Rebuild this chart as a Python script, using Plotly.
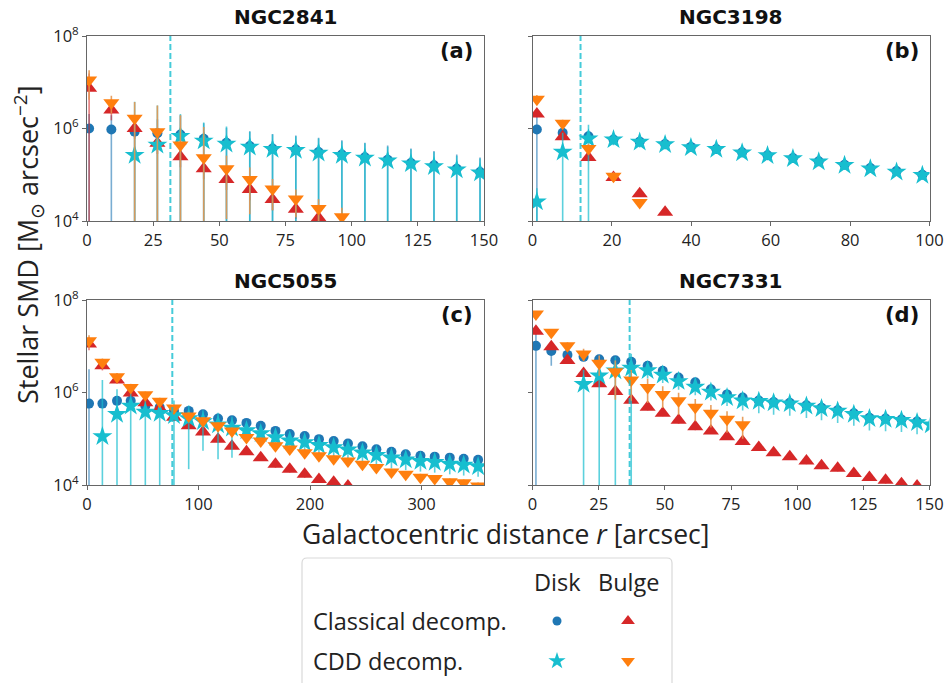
import plotly.graph_objects as go

# ---------------- data: stellar surface mass density profiles ----------------
# NGC2841
r_a = [0.8, 9.2, 18.0, 26.6, 35.3, 44.1, 52.7, 61.5, 70.1, 78.9, 87.5, 96.3,
       105.0, 113.6, 122.4, 131.1, 139.7, 148.5]
disk_cl_a = [1.0e6, 9.5e5, 8.5e5, 7.9e5, 7.4e5, 6.0e5, 4.9e5, 4.2e5, 3.7e5, 3.5e5,
             3.1e5, 2.75e5, 2.4e5, 2.1e5, 1.8e5, 1.6e5, 1.35e5, 1.15e5]
disk_cl_a_err = [1.05e6, 9.8e5, 9.0e5, 8.0e5, 1.2e6, 7.0e5, 5.5e5, 4.5e5, 3.9e5, 3.6e5,
                 3.2e5, 2.8e5, 2.5e5, 2.2e5, 1.9e5, 1.65e5, 1.4e5, 1.2e5]
bulge_cl_a = [7.4e6, 2.5e6, 1.0e6, 4.8e5, 2.45e5, 1.35e5, 7.9e4, 4.8e4, 2.9e4, 1.8e4, 1.17e4]
bulge_cl_a_err = [8.0e6, 1.0e6, 4.0e5, 2.0e5, 1.0e5, 5.5e4, 3.2e4, 2.0e4, 1.2e4, 7.0e3, 5.0e3]
disk_cdd_a = [2.63e5, 4.4e5, 6.8e5, 5.4e5, 4.6e5, 4.0e5, 3.55e5, 3.4e5, 2.95e5, 2.63e5,
              2.3e5, 2.0e5, 1.74e5, 1.51e5, 1.29e5, 1.10e5]
disk_cdd_a_err = [3.54e6, 2.72e6, 1.37e6, 8.1e5, 6.4e5, 4.5e5, 3.9e5, 3.4e5, 3.1e5, 2.7e5,
                  2.5e5, 2.05e5, 1.8e5, 1.58e5, 1.3e5, 1.14e5]
bulge_cdd_a = [1.12e7, 3.6e6, 1.66e6, 8.5e5, 4.4e5, 2.34e5, 1.35e5, 7.9e4, 4.9e4, 3.0e4,
               1.86e4, 1.23e4]
bulge_cdd_a_err = [7.0e6, 1.5e6, 2.1e6, 2.3e6, 1.5e6, 8.5e5, 1.24e5, 6.5e4, 3.2e4, 1.8e4,
                   1.1e4, 7.0e3]
r_eff_a = 31.5

# NGC3198
r_b = [1.1, 7.6, 14.1, 20.4, 27.0, 33.4, 39.9, 46.3, 52.8, 59.2, 65.6, 72.1, 78.6,
       85.1, 91.7, 98.2]
disk_cl_b = [9.5e5, 8.1e5, 6.8e5, 5.8e5, 5.2e5, 4.6e5, 4.0e5, 3.6e5, 3.05e5, 2.65e5,
             2.3e5, 1.95e5, 1.65e5, 1.4e5, 1.2e5, 1.0e5]
disk_cl_b_err = [9.6e5, 1.0e5, 8.0e4, 6.0e4, 5.0e4, 4.5e4, 4.0e4, 3.5e4, 3.0e4, 2.7e4,
                 2.3e4, 2.0e4, 1.7e4, 1.4e4, 1.2e4, 1.0e4]
bulge_cl_b = [2.05e6, 6.6e5, 2.35e5, 8.7e4, 3.9e4, 1.55e4]
bulge_cl_b_err = [3.0e5, 1.0e5, 4.0e4, 1.5e4, 6.0e3, 2.0e3]
disk_cdd_b = [2.6e4, 3.1e5, 6.0e5, 5.75e5, 5.1e5, 4.5e5, 3.9e5, 3.55e5, 3.0e5, 2.6e5,
              2.25e5, 1.9e5, 1.6e5, 1.35e5, 1.15e5, 9.8e4]
disk_cdd_b_err = [2.5e4, 5.0e5, 6.1e5, 1.4e5, 1.2e5, 1.0e5, 8.0e4, 7.0e4, 6.0e4, 5.0e4,
                  4.0e4, 3.5e4, 3.0e4, 2.5e4, 2.0e4, 1.7e4]
bulge_cdd_b = [4.3e6, 1.3e6, 3.7e5, 9.3e4, 2.5e4]
bulge_cdd_b_err = [1.0e6, 2.5e5, 1.0e5, 2.0e4, 5.0e3]
r_eff_b = 12.1

# NGC5055
r_c = [1.8, 13.8, 26.9, 39.2, 52.3, 65.2, 78.0, 91.2, 104.0, 117.5, 130.0, 143.0,
       155.8, 169.0, 181.8, 195.2, 208.0, 221.2, 234.0, 247.0, 259.5, 273.0, 285.8,
       299.0, 311.8, 325.3, 337.8, 350.7]
disk_cl_c = [5.75e5, 5.75e5, 6.6e5, 6.6e5, 5.1e5, 4.8e5, 4.0e5, 4.0e5, 3.4e5, 2.75e5,
             2.5e5, 2.2e5, 1.9e5, 1.48e5, 1.26e5, 1.15e5, 9.8e4, 8.9e4, 7.9e4, 6.9e4,
             5.9e4, 5.25e4, 4.6e4, 4.3e4, 4.1e4, 3.9e4, 3.7e4, 3.5e4]
disk_cl_c_err = [2.6e6, 9.0e4, 1.0e5, 1.0e5, 8.0e4, 7.0e4, 6.0e4, 6.0e4, 5.0e4, 4.0e4,
                 3.5e4, 3.0e4, 2.7e4, 2.2e4, 1.9e4, 1.7e4, 1.5e4, 1.3e4, 1.2e4, 1.0e4,
                 9.0e3, 8.0e3, 7.0e3, 6.5e3, 6.0e3, 6.0e3, 5.5e3, 5.0e3]
bulge_cl_c = [1.12e7, 3.8e6, 1.86e6, 9.8e5, 6.0e5, 4.5e5, 2.9e5, 1.9e5, 1.4e5, 9.8e4,
              6.9e4, 5.25e4, 3.9e4, 2.8e4, 2.2e4, 1.7e4, 1.32e4, 1.15e4, 9.5e3]
bulge_cl_c_err = [3.0e6, 8.0e5, 3.0e5, 1.5e5, 1.0e5, 7.0e4, 5.0e4, 3.0e4, 2.2e4, 1.6e4,
                  1.1e4, 8.0e3, 6.0e3, 4.5e3, 3.5e3, 2.7e3, 2.0e3, 1.7e3, 1.5e3]
disk_cdd_c = [1.12e5, 3.4e5, 5.1e5, 3.8e5, 3.55e5, 3.2e5, 2.75e5, 2.35e5, 2.0e5, 1.7e5,
              1.5e5, 1.3e5, 1.07e5, 9.1e4, 8.3e4, 7.2e4, 6.5e4, 5.8e4, 5.0e4, 4.4e4,
              3.9e4, 3.5e4, 3.25e4, 3.1e4, 2.85e4, 2.7e4, 2.5e4]
disk_cdd_c_err = [1.75e6, 8.3e5, 5.5e5, 5.1e5, 4.0e5, 3.5e5, 2.53e5, 1.8e5, 1.64e5, 1.31e5,
                  6.0e4, 5.0e4, 4.0e4, 3.6e4, 3.3e4, 2.9e4, 2.6e4, 2.3e4, 2.0e4, 1.8e4,
                  1.6e4, 1.4e4, 1.3e4, 1.25e4, 1.15e4, 1.1e4, 1.0e4]
bulge_cdd_c = [1.32e7, 4.5e6, 2.2e6, 1.29e6, 8.9e5, 6.5e5, 4.6e5, 3.1e5, 2.45e5, 1.9e5,
               1.48e5, 1.07e5, 8.9e4, 7.1e4, 6.0e4, 5.0e4, 4.3e4, 3.7e4, 3.3e4, 2.8e4,
               2.4e4, 1.9e4, 1.7e4, 1.48e4, 1.38e4, 1.17e4, 1.12e4, 9.5e3]
bulge_cdd_c_err = [4.0e6, 9.0e5, 4.0e5, 2.5e5, 1.6e5, 1.2e5, 8.0e4, 6.0e4, 4.5e4, 3.5e4,
                   2.8e4, 2.0e4, 1.7e4, 1.3e4, 1.1e4, 9.0e3, 8.0e3, 7.0e3, 6.0e3, 5.0e3,
                   4.5e3, 3.5e3, 3.0e3, 2.7e3, 2.5e3, 2.2e3, 2.0e3, 1.8e3]
r_eff_c = 76.5

# NGC7331
r_d = [1.3, 7.1, 13.2, 19.3, 25.2, 31.3, 37.3, 43.5, 49.2, 55.2, 61.5, 67.4, 73.5,
       79.4, 85.5, 91.1, 97.2, 103.5, 109.2, 115.3, 121.4, 127.3, 133.4, 139.4,
       145.3, 150.5]
disk_cl_d = [1.02e7, 7.9e6, 6.5e6, 5.9e6, 5.25e6, 5.0e6, 4.6e6, 3.8e6, 2.95e6, 2.1e6,
             1.66e6, 1.17e6, 9.1e5, 7.8e5, 6.7e5, 6.25e5, 6.0e5, 5.3e5, 4.7e5, 4.15e5,
             3.55e5, 2.85e5, 2.75e5, 2.6e5, 2.35e5]
disk_cl_d_err = [1.1e7, 4.1e6, 8.0e5, 7.0e5, 6.0e5, 6.0e5, 5.0e5, 4.5e5, 3.5e5, 2.5e5,
                 2.0e5, 1.4e5, 1.1e5, 9.0e4, 8.0e4, 7.5e4, 7.0e4, 6.0e4, 5.5e4, 5.0e4,
                 4.0e4, 3.5e4, 3.3e4, 3.1e4, 2.8e4]
bulge_cl_d = [2.1e7, 9.8e6, 4.9e6, 2.57e6, 1.55e6, 1.05e6, 6.8e5, 4.8e5, 3.55e5, 2.5e5,
              1.82e5, 1.48e5, 1.1e5, 8.7e4, 6.5e4, 5.0e4, 4.1e4, 3.3e4, 2.6e4, 2.3e4,
              1.78e4, 1.45e4, 1.26e4, 1.07e4, 9.5e3]
bulge_cl_d_err = [3.0e6, 1.5e6, 7.0e5, 4.0e5, 2.5e5, 2.0e5, 1.0e5, 7.0e4, 5.0e4, 4.0e4,
                  3.0e4, 2.2e4, 1.6e4, 1.3e4, 1.0e4, 7.0e3, 6.0e3, 5.0e3, 4.0e3, 3.5e3,
                  2.7e3, 2.2e3, 1.9e3, 1.6e3, 1.4e3]
disk_cdd_d = [1.5e6, 2.3e6, 2.95e6, 3.4e6, 3.0e6, 2.4e6, 1.74e6, 1.32e6, 1.02e6, 7.8e5,
              6.6e5, 6.45e5, 6.0e5, 5.75e5, 5.1e5, 4.5e5, 4.0e5, 3.4e5, 2.75e5, 2.65e5,
              2.5e5, 2.25e5, 2.0e5]
disk_cdd_d_err = [1.6e6, 2.4e6, 3.0e6, 3.5e6, 1.0e6, 8.0e5, 6.0e5, 4.5e5, 3.5e5, 2.7e5,
                  2.5e5, 2.9e5, 2.7e5, 2.6e5, 2.3e5, 2.0e5, 1.8e5, 1.5e5, 1.25e5, 1.2e5,
                  1.1e5, 1.0e5, 9.0e4]
bulge_cdd_d = [5.0e7, 2.0e7, 1.02e7, 6.8e6, 4.3e6, 2.8e6, 1.86e6, 1.29e6, 9.1e5, 6.6e5,
               4.8e5, 3.55e5, 2.65e5, 2.0e5]
bulge_cdd_d_err = [5.0e6, 3.0e6, 2.0e6, 2.0e6, 2.0e6, 2.1e6, 1.2e6, 7.0e5, 4.5e5, 3.3e5,
                   2.4e5, 1.8e5, 1.3e5, 1.0e5]
r_eff_d = 36.7

galaxies = ["NGC2841", "NGC3198", "NGC5055", "NGC7331"]
panel_tags = ["(a)", "(b)", "(c)", "(d)"]
x_ranges = [[0, 150], [0, 100], [0, 356], [0, 150]]
x_ticks = [[0, 25, 50, 75, 100, 125, 150], [0, 20, 40, 60, 80, 100],
           [0, 100, 200, 300], [0, 25, 50, 75, 100, 125, 150]]
y_ticks = [1e4, 1e6, 1e8]
y_tick_text = ["10<sup>4</sup>", "10<sup>6</sup>", "10<sup>8</sup>"]

# ---------------- layout geometry (pixels) ----------------
W, H = 947, 683
FONT = "Open Sans"
TXT = "#222222"
AX = "#666666"


def px(x):
    return x / W


def py(y):
    return 1 - y / H


boxes = [(87, 484, 36, 221), (532.5, 929.5, 36, 221),
         (87, 484, 300, 485), (532.5, 929.5, 300, 485)]

C_BLUE = "#1f77b4"
C_RED = "#d62728"
C_CYAN = "#17becf"
C_ORANGE = "#ff7f0e"
E_BLUE = "rgba(31,119,180,0.6)"
E_RED = "rgba(214,39,40,0.6)"
E_CYAN = "rgba(23,190,207,0.7)"
E_ORANGE = "rgba(230,150,80,0.9)"

panels = [
    (r_a, disk_cl_a, disk_cl_a_err, bulge_cl_a, bulge_cl_a_err, r_a[2:], disk_cdd_a,
     disk_cdd_a_err, bulge_cdd_a, bulge_cdd_a_err, r_eff_a),
    (r_b, disk_cl_b, disk_cl_b_err, bulge_cl_b, bulge_cl_b_err, r_b, disk_cdd_b,
     disk_cdd_b_err, bulge_cdd_b, bulge_cdd_b_err, r_eff_b),
    (r_c, disk_cl_c, disk_cl_c_err, bulge_cl_c, bulge_cl_c_err, r_c[1:], disk_cdd_c,
     disk_cdd_c_err, bulge_cdd_c, bulge_cdd_c_err, r_eff_c),
    (r_d, disk_cl_d, disk_cl_d_err, bulge_cl_d, bulge_cl_d_err, r_d[3:], disk_cdd_d,
     disk_cdd_d_err, bulge_cdd_d, bulge_cdd_d_err, r_eff_d),
]

fig = go.Figure()
layout = {}
shapes = []
annotations = []


def err(arr, color):
    return dict(type="data", array=arr, symmetric=True, color=color,
                thickness=1.6, width=0, visible=True)


for i, (r, dcl, dcl_e, bcl, bcl_e, r_cdd, dcdd, dcdd_e, bcdd, bcdd_e, r_eff) in enumerate(panels):
    n = i + 1
    xa = "x" if n == 1 else f"x{n}"
    ya = "y" if n == 1 else f"y{n}"
    x0, x1, y0, y1 = boxes[i]

    fig.add_trace(go.Scatter(x=r[:len(dcl)], y=dcl, mode="markers", xaxis=xa, yaxis=ya,
                             marker=dict(symbol="circle", size=10, color=C_BLUE),
                             error_y=err(dcl_e, E_BLUE), showlegend=False))
    fig.add_trace(go.Scatter(x=r[:len(bcl)], y=bcl, mode="markers", xaxis=xa, yaxis=ya,
                             marker=dict(symbol="triangle-up", size=14, color=C_RED),
                             error_y=err(bcl_e, E_RED), showlegend=False))
    fig.add_trace(go.Scatter(x=r_cdd[:len(dcdd)], y=dcdd, mode="markers", xaxis=xa, yaxis=ya,
                             marker=dict(symbol="star", size=15, color=C_CYAN),
                             error_y=err(dcdd_e, E_CYAN), showlegend=False))
    fig.add_trace(go.Scatter(x=r[:len(bcdd)], y=bcdd, mode="markers", xaxis=xa, yaxis=ya,
                             marker=dict(symbol="triangle-down", size=14, color=C_ORANGE),
                             error_y=err(bcdd_e, E_ORANGE), showlegend=False))

    key_x = "xaxis" if n == 1 else f"xaxis{n}"
    key_y = "yaxis" if n == 1 else f"yaxis{n}"
    layout[key_x] = dict(
        domain=[px(x0), px(x1)], anchor=ya, range=x_ranges[i], automargin=False,
        tickmode="array", tickvals=x_ticks[i], ticks="outside", ticklen=4,
        tickcolor=AX, showline=True, linecolor=AX, linewidth=1, mirror=True,
        showgrid=False, zeroline=False,
        tickfont=dict(family=FONT, size=16.5, color=TXT))
    layout[key_y] = dict(
        domain=[py(y1), py(y0)], anchor=xa, type="log", range=[4, 8], automargin=False,
        tickmode="array", tickvals=y_ticks,
        ticktext=y_tick_text if i % 2 == 0 else ["", "", ""],
        ticks="outside", ticklen=4, tickcolor=AX, showline=True, linecolor=AX,
        linewidth=1, mirror=True, showgrid=False, zeroline=False,
        tickfont=dict(family=FONT, size=16.5, color=TXT))

    shapes.append(dict(type="line", xref=xa, yref=f"{ya} domain", x0=r_eff, x1=r_eff,
                       y0=0, y1=1, line=dict(color="rgba(23,190,207,0.8)", width=2,
                                             dash="6px,3px"), layer="above"))
    annotations.append(dict(text=f"<b>{galaxies[i]}</b>", xref="paper", yref="paper",
                            x=px((x0 + x1) / 2), y=py(y0 - 19), xanchor="center",
                            yanchor="middle", showarrow=False,
                            font=dict(family="DejaVu Sans", size=20, color="#111111")))
    annotations.append(dict(text=f"<b>{panel_tags[i]}</b>", xref="paper", yref="paper",
                            x=px(x1 - 9), y=py(y0 + 15), xanchor="right", yanchor="middle",
                            showarrow=False,
                            font=dict(family="DejaVu Sans", size=21, color="#111111")))

# shared axis titles
annotations.append(dict(text="Stellar SMD [M<sub>\u2299</sub> arcsec<sup>\u22122</sup>]",
                        xref="paper", yref="paper", x=px(28), y=py(245), textangle=-90,
                        xanchor="center", yanchor="middle", showarrow=False,
                        font=dict(family=FONT, size=27, color=TXT)))
annotations.append(dict(text="Galactocentric distance <i>r</i> [arcsec]",
                        xref="paper", yref="paper", x=px(506), y=py(534),
                        xanchor="center", yanchor="middle", showarrow=False,
                        font=dict(family=FONT, size=26.5, color=TXT)))

# ---------------- legend table ----------------
lx0, lx1, ly0, ly1 = 302, 672, 558, 700
rad = 5
shapes.append(dict(
    type="path", xref="paper", yref="paper",
    path=(f"M {px(lx0 + rad)},{py(ly0)} L {px(lx1 - rad)},{py(ly0)} "
          f"Q {px(lx1)},{py(ly0)} {px(lx1)},{py(ly0 + rad)} "
          f"L {px(lx1)},{py(ly1)} L {px(lx0)},{py(ly1)} "
          f"L {px(lx0)},{py(ly0 + rad)} Q {px(lx0)},{py(ly0)} {px(lx0 + rad)},{py(ly0)} Z"),
    line=dict(color="#d9d9d9", width=1.2), fillcolor="white", layer="below"))

legend_cols = ["Disk", "Bulge"]
legend_rows = ["Classical decomp.", "CDD decomp."]
col_px = [557, 628]
row_px = [621, 661]
for j, name in enumerate(legend_cols):
    annotations.append(dict(text=name, xref="paper", yref="paper", x=px(col_px[j]),
                            y=py(582), xanchor="center", yanchor="middle",
                            showarrow=False, font=dict(family=FONT, size=23.5, color=TXT)))
for k, name in enumerate(legend_rows):
    annotations.append(dict(text=name, xref="paper", yref="paper", x=px(311),
                            y=py(row_px[k]), xanchor="left", yanchor="middle",
                            showarrow=False, font=dict(family=FONT, size=23.5, color=TXT)))

# legend glyphs live on a hidden helper axis spanning the whole page
layout["xaxis5"] = dict(domain=[0, 1], range=[0, W], visible=False, anchor="y5",
                        fixedrange=True, automargin=False)
layout["yaxis5"] = dict(domain=[0, 1], range=[H, 0], visible=False, anchor="x5",
                        fixedrange=True, automargin=False)
legend_syms = [["circle", "triangle-up"], ["star", "triangle-down"]]
legend_cols_c = [[C_BLUE, C_RED], [C_CYAN, C_ORANGE]]
legend_sizes = [[9, 12], [13, 12]]
for k in range(2):
    for j in range(2):
        fig.add_trace(go.Scatter(x=[col_px[j]], y=[row_px[k]], xaxis="x5", yaxis="y5",
                                 mode="markers", showlegend=False, hoverinfo="skip",
                                 marker=dict(symbol=legend_syms[k][j],
                                             color=legend_cols_c[k][j],
                                             size=legend_sizes[k][j])))

fig.update_layout(
    width=W, height=H, margin=dict(l=0, r=0, t=0, b=0, autoexpand=False),
    paper_bgcolor="white", plot_bgcolor="rgba(0,0,0,0)",
    shapes=shapes, annotations=annotations, showlegend=False,
    font=dict(family=FONT, color=TXT), **layout)

fig.write_html("out.html")
